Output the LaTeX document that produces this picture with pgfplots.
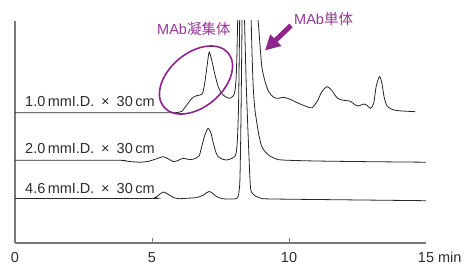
\documentclass[border=0pt]{standalone}
\usepackage{pgfplots}
\pgfplotsset{compat=1.18}
\usepackage{fontspec}
\setmainfont{Liberation Sans}
\newfontfamily\cjk{Noto Sans CJK JP}
\usetikzlibrary{arrows.meta}
\definecolor{txt}{RGB}{45,45,45}
\definecolor{axisgray}{RGB}{120,120,120}
\definecolor{purtext}{RGB}{150,55,150}
\definecolor{purshape}{RGB}{142,36,140}
\begin{document}
\begin{tikzpicture}
\begin{axis}[
  at={(0,0)}, anchor=south west,
  scale only axis, width=411bp, height=222bp,
  xmin=0, xmax=15, ymin=0, ymax=222,
  axis lines*=left,
  axis line style={draw=axisgray, line width=1.3bp},
  ytick=\empty,
  xtick={5,10}, xticklabels={5,10},
  extra x ticks={0,15}, extra x tick labels={0,15\rlap{ min}},
  extra x tick style={major tick length=0pt},
  tick align=inside, major tick length=5bp,
  tick style={draw=axisgray, line width=1bp},
  xticklabel style={font=\fontsize{14.5bp}{17bp}\selectfont, text=txt, inner sep=0pt, yshift=-9bp},
  clip mode=individual,
]
\addplot[black!85, line width=0.8bp, smooth, tension=0.5] coordinates {
(0,130.3)(2,130.3)(4,130.2)(5.5,130.2)(5.85,130.3)(5.95,130.6)(6.08,131.5)(6.27,138)(6.45,144.5)(6.6,147)(6.75,148)(6.85,150)
(6.93,161)(7.0,175)(7.08,190.5)(7.14,187)(7.22,178)(7.3,168)(7.42,156)(7.54,149.5)(7.7,146)(7.85,144.7)(7.95,146.5)(8.02,151)
(8.07,165)(8.1,190)(8.13,225)(8.2,290)(8.35,340)(8.55,320)(8.72,270)(8.82,235)(8.88,220)(8.95,195)(9.01,176)(9.12,162)
(9.26,151.3)(9.44,145.7)(9.62,144.7)(9.8,145.7)(10.04,143.7)(10.35,139.7)(10.66,136.3)(10.84,135.3)(11.02,141.3)(11.2,151.3)
(11.39,156.3)(11.57,152.3)(11.75,145.3)(11.93,143)(12.24,141.7)(12.42,138)(12.54,137)(12.73,139)(12.85,137.7)(12.97,134.7)
(13.09,139.7)(13.18,156.3)(13.3,166.3)(13.39,159.7)(13.48,144.7)(13.58,137)(13.76,133.7)(14.0,132.3)(14.61,131.3)
};
\addplot[black!85, line width=0.8bp, smooth, tension=0.5] coordinates {
(0,82.7)(3.6,82.7)(3.95,82.4)(4.25,81.3)(4.55,80.8)(4.85,81.5)(5.11,83.7)(5.41,86.3)(5.6,84)(5.78,81.5)(5.95,82.5)(6.14,84.7)
(6.39,83.3)(6.6,84.8)(6.72,87)(6.81,96)(6.93,108)(7.05,114.7)(7.15,110)(7.24,99.7)(7.33,91)(7.42,86.3)(7.6,83.5)(7.73,83)
(7.9,84.5)(8.0,86)(8.07,90)(8.12,105)(8.16,140)(8.19,200)(8.22,250)(8.35,320)(8.5,300)(8.6,240)(8.64,200)(8.69,158)
(8.75,135)(8.81,123)(8.9,108)(9.0,97)(9.11,92)(9.3,87)(9.5,84.5)(9.75,83)(11,82)(13,81.3)(15,80.8)
};
\addplot[black!85, line width=0.8bp, smooth, tension=0.5] coordinates {
(0,44.5)(4.9,44.5)(5.1,45.3)(5.25,48)(5.41,51)(5.6,48.5)(5.8,45.3)(6.02,44.3)(6.3,44.8)(6.6,45.3)(6.85,47.5)(7.0,50.5)
(7.09,51.5)(7.2,50)(7.35,46.5)(7.55,44.5)(7.73,44)(7.95,44)(8.08,44.5)(8.14,46.5)(8.18,52)(8.21,65)(8.24,110)(8.27,180)
(8.29,230)(8.32,280)(8.37,230)(8.44,158)(8.53,93)(8.59,57)(8.65,50)(8.77,47)(8.95,45)(9.12,44.2)(10,43.8)(12,43.2)(15,42.3)
};
\end{axis}
\begin{scope}[shift={(-15bp,243bp)}, x=1bp, y=-1bp]
  \node[anchor=base west, inner sep=0pt, text=txt, font=\fontsize{14.5bp}{16bp}\selectfont] at (25,106.7) {1.0\,mmI.D.\hspace{0.45em}×\hspace{0.5em}30\,cm};
  \node[anchor=base west, inner sep=0pt, text=txt, font=\fontsize{14.5bp}{16bp}\selectfont] at (25,153.7) {2.0\,mmI.D.\hspace{0.45em}×\hspace{0.5em}30\,cm};
  \node[anchor=base west, inner sep=0pt, text=txt, font=\fontsize{14.5bp}{16bp}\selectfont] at (25,193) {4.6\,mmI.D.\hspace{0.45em}×\hspace{0.5em}30\,cm};
  \node[anchor=west, inner sep=0pt, text=purtext, font=\fontsize{14.5bp}{16bp}\selectfont] at (157,28.5) {MAb{\cjk 凝集体}};
  \node[anchor=west, inner sep=0pt, text=purtext, font=\fontsize{14.5bp}{16bp}\selectfont] at (294,19) {MAb{\cjk 単体}};
  \draw[purshape, line width=1.6bp, rotate around={40:(196,80)}] (196,80) ellipse [x radius=42bp, y radius=27bp];
  \draw[purshape, line width=5bp, -{Triangle[length=15bp,width=15bp]}] (291,25.5) -- (265,50.5);
  \pgfresetboundingbox
  \path (0,0) rectangle (464,266);
\end{scope}
\end{tikzpicture}
\end{document}
